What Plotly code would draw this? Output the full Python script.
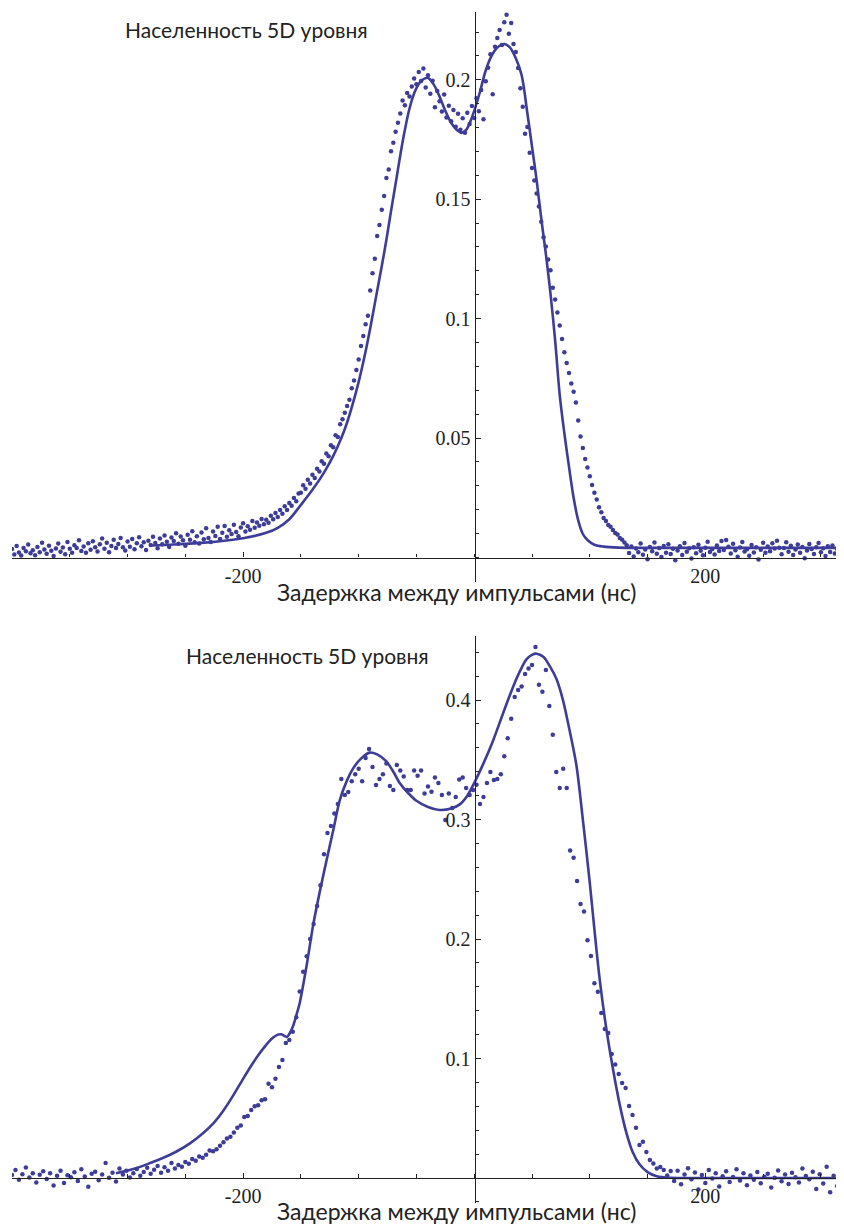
import plotly.graph_objects as go

# page has an 8px body margin: build the figure 8px smaller and shift coordinates
OFF = 8
W, H = 844 - OFF, 1226 - OFF
COLOR = "rgb(61,61,153)"

# ---------------- top panel data ----------------
top_delay = list(range(-400, 320, 2))
top_pop_milli = [
    3.5, 1.2, 4.8, 2.1, 0.8, 3.9, 2.6, 5.4, 1.7, 3.0,
    0.9, 4.4, 2.2, 6.1, 3.3, 1.5, 4.9, 2.8, 0.6, 3.7,
    5.8, 2.4, 4.1, 1.3, 6.4, 3.6, 2.0, 5.1, 3.9, 7.2,
    2.7, 4.6, 1.9, 5.9, 3.2, 6.8, 4.3, 2.5, 5.5, 7.9,
    3.6, 6.1, 2.2, 4.8, 7.4, 3.9, 5.6, 8.1, 4.2, 2.9,
    6.7, 4.5, 7.7, 3.4, 5.9, 8.4, 4.7, 6.3, 3.1, 7.0,
    5.2, 8.6, 6.0, 3.8, 7.9, 5.5, 9.2, 6.6, 4.4, 8.3,
    6.9, 10.1, 5.7, 8.8, 7.2, 4.9, 9.5, 7.4, 11.0, 6.3,
    8.9, 5.8, 10.4, 7.6, 12.2, 8.1, 6.5, 10.9, 9.0, 12.8,
    7.7, 10.3, 13.1, 8.6, 11.4, 9.8, 13.7, 10.6, 8.9, 12.5,
    14.3, 10.8, 13.0, 11.6, 15.2, 12.4, 14.6, 13.3, 16.1, 13.9,
    15.8, 14.5, 17.4, 16.0, 18.6, 16.9, 19.8, 18.3, 21.4, 19.9,
    22.8, 21.6, 24.9, 23.5, 26.8,
    27.1, 30.2, 28.8, 32.5, 31.0, 34.6, 33.2, 37.1, 36.0, 40.3,
    39.2, 43.5, 42.4, 47.0, 46.1, 51.2, 50.4, 55.8, 57.9, 60.6,
    63.4, 66.0, 70.8, 74.1, 78.5, 82.9,
    88.5, 92.7, 97.6, 101.2, 111.8, 119.0, 125.1, 134.6, 139.2, 145.6,
    151.3, 158.9, 162.4, 170.1, 173.6, 178.2, 182.0, 185.9, 191.3, 189.4,
    194.5, 193.0, 197.2, 200.6, 198.1, 203.3, 199.5, 204.7, 196.8, 201.9,
    194.2, 199.6, 188.5, 195.3, 191.0, 186.7, 193.8, 184.2, 189.1, 182.6,
    187.4, 180.3, 185.8, 179.1, 183.9, 177.8, 186.2, 181.5, 189.0,
    184.0, 192.3, 186.8, 195.7, 183.5, 199.4, 205.1, 210.7, 194.0, 213.8,
    217.5, 220.9, 214.6, 224.1, 227.2, 219.3, 223.8, 215.0, 211.6, 204.9,
    196.5,
    188.7, 177.4, 180.2, 169.5, 163.1, 157.8, 152.4, 147.0, 140.6, 134.1,
    130.2, 124.8, 120.3, 112.9, 108.0, 102.6, 97.1, 91.5, 85.9, 81.4,
    77.2, 72.8, 69.4, 64.9, 57.3, 50.6, 45.8, 41.2, 37.7, 34.0,
    30.3, 27.1, 24.2, 21.0, 18.9, 16.5, 15.2, 13.6, 12.8, 11.5,
    10.2, 9.6, 8.1, 7.4, 6.2,
    5.1, 1.8, 4.6, 0.4, 3.7, 2.2, 5.8, 1.1, 3.3, -0.8,
    4.4, 2.6, 6.2, 1.5, 3.9, 0.2, 4.8, 2.0, 5.5, 1.4,
    3.6, -1.2, 2.9, 4.7, 1.0, 6.0, 2.4, 3.8, -0.5, 4.2,
    1.7, 5.3, 2.8, 0.9, 4.0, 6.6, 2.3, 3.5, 1.2, 5.0,
    2.7, 6.9, 3.1, 7.3, 4.5, 1.6, 5.7, 3.0, 0.3, 4.1,
    6.4, 2.5, 3.4, 0.7, 5.2, 2.1, 4.3, -0.9, 3.2, 6.1,
    1.9, 4.6, 2.6, 5.9, 3.7, 7.0, 4.0, 1.3, 3.9, 6.3,
    2.4, 4.9, 1.0, 3.3, 5.4, 2.0, 4.4, -0.4, 2.9, 5.6,
    3.5, 1.4, 4.2, 6.0, 2.2, 3.8, 0.6, 4.7, 2.3, 5.0,
    1.6, 3.6, -0.7, 2.7,
]
assert len(top_delay) == len(top_pop_milli)
top_pop = [v / 1000 for v in top_pop_milli]

top_fit_x = [-280, -260, -240, -220, -200, -180, -170, -160, -150, -140, -130, -122,
             -115, -110, -105, -100, -95, -90, -85, -80, -76, -72, -67, -62, -56, -51,
             -46, -40, -35, -30, -25, -20, -15, -11, -7, -3, 0, 5, 10, 15, 20, 26, 31,
             36, 41, 46, 50, 54, 58, 62, 66, 70, 74, 78, 82, 86, 90, 94, 98, 104, 112,
             125, 150, 200, 250, 320]
top_fit_y = [0.0050, 0.0054, 0.0060, 0.0068, 0.0080, 0.0103, 0.0124, 0.0160, 0.0220,
             0.0283, 0.0355, 0.0425, 0.0500, 0.0565, 0.0645, 0.0735, 0.0840, 0.0960,
             0.1090, 0.1220, 0.1330, 0.1450, 0.1595, 0.1740, 0.1880, 0.1955, 0.1995,
             0.2008, 0.1980, 0.1930, 0.1870, 0.1820, 0.1790, 0.1778, 0.1790, 0.1830,
             0.1870, 0.1950, 0.2040, 0.2100, 0.2135, 0.2150, 0.2135, 0.2090, 0.2020,
             0.1860, 0.1720, 0.1580, 0.1420, 0.1270, 0.1105, 0.0910, 0.0680, 0.0520,
             0.0380, 0.0250, 0.0155, 0.0098, 0.0073, 0.0053, 0.0045, 0.0041, 0.0040,
             0.0040, 0.0040, 0.0040]

# ---------------- bottom panel data ----------------
bot_delay = list(range(-400, 321, 3))
bot_pop_milli = [
    2.5, 6.8, -1.5, 3.2, 8.9, 0.4, 4.1, -3.8, 2.7, 5.6,
    -0.9, 3.9, -6.2, 1.8, 6.0, -4.1, 2.3, 0.7, 4.9, -2.5,
    7.3, 1.2, -7.4, 3.5, 5.2, -1.8, 2.9, 12.5, 0.3, 4.4,
    -3.0, 8.0, 3.0, 6.0, 0.5, 4.0, 7.5, 2.0, 5.0, 8.5,
    3.5, 7.0, 10.0, 4.5, 9.0, 6.0, 12.5, 8.0, 11.0, 9.5,
    13.5, 12.0, 16.0, 14.5, 18.0, 17.0, 19.5, 23.0, 22.5, 24.0,
    27.0, 30.0, 33.0, 34.5, 38.0, 42.0, 44.0, 51.0, 52.0, 57.0,
    60.0, 61.0, 65.0, 66.0, 79.0, 76.0, 83.0, 93.0, 98.7, 113.0,
    115.5, 122.4, 134.5, 156.0, 172.6, 185.5, 200.0, 212.5, 227.6, 245.0,
    271.0, 288.7, 294.6, 305.0, 313.0, 334.0, 320.5, 323.0, 332.0, 338.0,
    342.6, 332.0, 351.5, 359.0, 344.0, 329.0, 334.0, 338.0, 347.0, 328.0,
    324.7, 345.6, 341.0, 336.0, 324.7, 324.7, 341.0, 336.7, 341.0, 321.7,
    327.7, 323.2, 335.1, 330.6, 320.5, 299.6, 321.7, 309.7, 318.8, 333.5,
    335.1, 326.4, 320.5, 324.7, 329.2, 313.0, 318.8, 330.6, 339.7, 333.0,
    334.0, 338.0, 353.0, 368.0, 384.4, 402.5, 408.4, 411.4, 421.8, 426.3,
    429.3, 444.3, 412.9, 406.9, 425.1, 395.0, 371.0, 339.7, 326.4, 342.6,
    326.4, 274.0, 268.0, 248.5, 229.3, 223.0, 199.0, 185.8, 163.0, 155.8,
    138.0, 124.7, 121.4, 103.8, 95.0, 87.0, 79.5, 75.3, 60.3, 52.7,
    42.0, 27.6, 30.4, 21.8, 15.0, 12.1, 8.0, 9.3, 6.7, 2.2,
    5.8,
    -2.4, 6.1, -5.3, 3.0, 8.2, -1.1, 4.7, -9.6, 2.5, -4.2,
    6.8, -0.5, 3.9, -7.1, 1.4, 5.6, -3.3, 0.8, 7.4, -2.0,
    4.1, -6.0, 2.2, -1.5, 5.0, -4.4, 1.1, 3.6, -8.0, 0.2,
    6.3, -2.6, 2.9, -5.1, 4.4, 0.6, -3.8, 7.9, 1.7, -1.0,
    5.3, -9.2, 3.2, -4.6, 9.4, -11.8, 2.0, -6.7, 4.8, -3.1,
]
assert len(bot_delay) == len(bot_pop_milli), (len(bot_delay), len(bot_pop_milli))
bot_pop = [v / 1000 for v in bot_pop_milli]

bot_fit_x = [-310, -295, -281, -270, -258, -246, -235, -226, -217, -208, -200, -193,
             -186, -180, -174, -170, -167, -164, -162, -160, -157, -154, -151, -145,
             -139.5, -134, -128, -122, -116.4, -110, -104.9, -98, -90.4, -84, -76, -70,
             -64.5, -57, -50, -40, -30, -20, -12.5, -6, 0, 8, 16.3, 25, 33.6, 40, 45,
             50, 54, 60, 65, 71, 76.8, 82, 88.4, 94, 100, 104, 108.6, 114, 120, 126,
             131.7, 137, 143, 150, 158, 170, 200, 260, 320]
bot_fit_y = [0.0040, 0.0075, 0.0123, 0.0165, 0.0220, 0.0290, 0.0372, 0.0455, 0.0565,
             0.0700, 0.0830, 0.0940, 0.1040, 0.1115, 0.1175, 0.1200, 0.1203, 0.1188,
             0.1180, 0.1205, 0.1266, 0.1360, 0.1465, 0.1780, 0.2110, 0.2380, 0.2650,
             0.2910, 0.3160, 0.3330, 0.3426, 0.3510, 0.3560, 0.3545, 0.3486, 0.3400,
             0.3306, 0.3220, 0.3157, 0.3105, 0.3080, 0.3092, 0.3127, 0.3200, 0.3306,
             0.3470, 0.3660, 0.3890, 0.4110, 0.4250, 0.4338, 0.4378, 0.4388, 0.4360,
             0.4290, 0.4180, 0.4000, 0.3770, 0.3456, 0.3000, 0.2470, 0.2080, 0.1660,
             0.1270, 0.0916, 0.0610, 0.0378, 0.0220, 0.0115, 0.0050, 0.0015, 0.0002,
             0.0, 0.0, 0.0]

y_label = "Населенность 5D уровня"
x_label = "Задержка между импульсами (нс)"
x_ticks = [-200, 200]
top_y_ticks = [0.05, 0.1, 0.15, 0.2]
bot_y_ticks = [0.1, 0.2, 0.3, 0.4]


def px_x(p):
    return min(1.0, max(0.0, (p - OFF) / W))


def px_y(p):
    return min(1.0, max(0.0, 1 - (p - OFF) / H))


fig = go.Figure()
fig.add_trace(go.Scatter(x=top_delay, y=top_pop, mode="markers",
                         marker=dict(size=4.5, color=COLOR), xaxis="x", yaxis="y"))
fig.add_trace(go.Scatter(x=top_fit_x, y=top_fit_y, mode="lines",
                         line=dict(color=COLOR, width=2.6, shape="spline", smoothing=0.9),
                         xaxis="x", yaxis="y"))
fig.add_trace(go.Scatter(x=bot_delay, y=bot_pop, mode="markers",
                         marker=dict(size=4.5, color=COLOR), xaxis="x2", yaxis="y2"))
fig.add_trace(go.Scatter(x=bot_fit_x, y=bot_fit_y, mode="lines",
                         line=dict(color=COLOR, width=2.6, shape="spline", smoothing=0.8),
                         xaxis="x2", yaxis="y2"))

tickfont = dict(family="Liberation Serif, Times New Roman, serif", size=20, color="#222")

xcommon = dict(range=[-400, 320], domain=[px_x(12), 1.0], anchor="free",
               automargin=False,
               showline=True, linecolor="#222", linewidth=1.2,
               ticks="inside", ticklen=5, tickwidth=1, tickcolor="#222",
               tickvals=x_ticks, ticktext=[str(v) for v in x_ticks],
               minor=dict(ticks="inside", dtick=50, tick0=0, ticklen=3.5,
                          tickwidth=1, tickcolor="#222"),
               showgrid=False, zeroline=False, tickfont=tickfont)

ycommon = dict(anchor="free", position=px_x(474.5), side="left",
               automargin=False,
               showline=True, linecolor="#222", linewidth=1.2,
               ticks="inside", ticklen=5, tickwidth=1, tickcolor="#222",
               showgrid=False, zeroline=False, tickfont=tickfont)

fig.update_layout(
    template="none",
    width=W, height=H,
    margin=dict(l=0, r=0, t=0, b=0, pad=0),
    paper_bgcolor="white", plot_bgcolor="white",
    showlegend=False,
    xaxis=dict(xcommon, position=px_y(557.5)),
    yaxis=dict(ycommon, domain=[px_y(582), px_y(12)], range=[-0.0103, 0.2284],
               tickvals=top_y_ticks, ticktext=["0.05", "0.1", "0.15", "0.2"],
               minor=dict(ticks="inside", dtick=0.01, tick0=0, ticklen=3.5,
                          tickwidth=1, tickcolor="#222")),
    xaxis2=dict(xcommon, position=px_y(1178)),
    yaxis2=dict(ycommon, domain=[px_y(1203), px_y(636)], range=[-0.0209, 0.4536],
                tickvals=bot_y_ticks, ticktext=["0.1", "0.2", "0.3", "0.4"],
                minor=dict(ticks="inside", dtick=0.02, tick0=0, ticklen=3.5,
                           tickwidth=1, tickcolor="#222")),
)

labfont = dict(family="Lato, Open Sans, sans-serif", size=21, color="#222")
axfont = dict(family="Lato, Open Sans, sans-serif", size=23, color="#222")
fig.add_annotation(text=y_label, x=px_x(246), y=px_y(30), xref="paper", yref="paper",
                   showarrow=False, font=labfont, xanchor="center", yanchor="middle")
fig.add_annotation(text=y_label, x=px_x(307), y=px_y(655), xref="paper", yref="paper",
                   showarrow=False, font=labfont, xanchor="center", yanchor="middle")
fig.add_annotation(text=x_label, x=px_x(456), y=px_y(592), xref="paper", yref="paper",
                   showarrow=False, font=axfont, xanchor="center", yanchor="middle")
fig.add_annotation(text=x_label, x=px_x(456), y=px_y(1211), xref="paper", yref="paper",
                   showarrow=False, font=axfont, xanchor="center", yanchor="middle")

fig.write_html("out.html")
